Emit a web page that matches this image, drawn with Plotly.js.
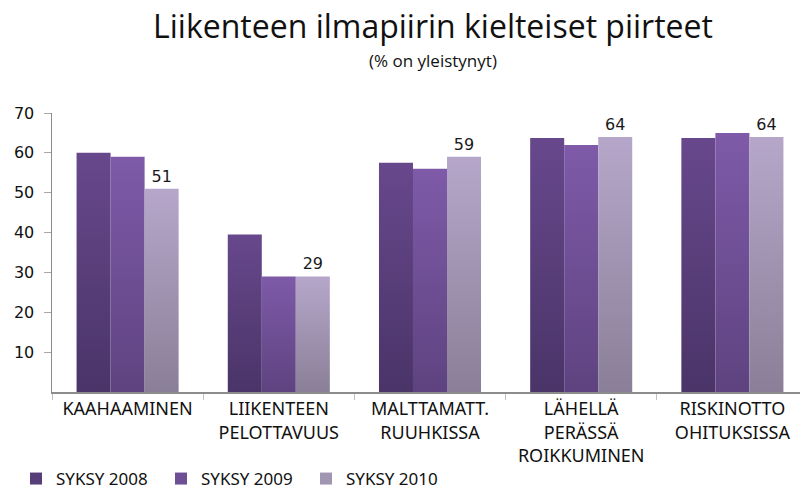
<!DOCTYPE html>
<html>
<head>
<meta charset="utf-8">
<script src="https://cdn.plot.ly/plotly-3.0.1.min.js"></script>
<style>
html,body{margin:0;padding:0;overflow:hidden;background:#fff;}
#chart{width:808px;height:493px;}
</style>
</head>
<body>
<div id="chart"></div>
<script>
const categories = ["KAAHAAMINEN", "LIIKENTEEN<br>PELOTTAVUUS", "MALTTAMATT.<br>RUUHKISSA", "LÄHELLÄ<br>PERÄSSÄ<br>ROIKKUMINEN", "RISKINOTTO<br>OHITUKSISSA"];
const seriesNames = ["SYKSY 2008", "SYKSY 2009", "SYKSY 2010"];
const syksy2008 = [60, 39.5, 57.5, 63.7, 63.7];
const syksy2009 = [59, 29, 56, 62, 65];
const syksy2010 = [51, 29, 59, 64, 64];
const colors = ["#583e78", "#6e4f96", "#a196b2"];
const gradTop = ["#67488c", "#7e5aa8", "#b6a7ca"];
const gradBottom = ["#4a3468", "#5e4380", "#8a7f98"];

const labelFont = "'Noto Sans', 'Open Sans', sans-serif";
const vals = [syksy2008, syksy2009, syksy2010];
const traces = vals.map((v, i) => ({
  type: "bar",
  name: seriesNames[i],
  x: categories,
  y: v,
  marker: {color: colors[i], line: {width: 0}},
  text: i === 2 ? v.map(String) : undefined,
  textposition: i === 2 ? "outside" : "none",
  textfont: {family: "DejaVu Sans, sans-serif", size: 16, color: "#1a1a1a"},
  cliponaxis: false,
  hoverinfo: "none"
}));

const layout = {
  width: 808, height: 493,
  margin: {l: 52, r: 0, t: 113, b: 101},
  paper_bgcolor: "#fff", plot_bgcolor: "#fff",
  barmode: "group", bargap: 0.325, bargroupgap: 0,
  title: {text: "Liikenteen ilmapiirin kielteiset piirteet",
    font: {family: "'Open Sans', sans-serif", size: 32, color: "#111"},
    xref: "container", x: 433/808, xanchor: "center",
    yref: "container", y: 1 - 27/493, yanchor: "middle"},
  annotations: [{text: "(% on yleistynyt)", showarrow: false,
    xref: "paper", yref: "paper", x: (433-52)/756, y: 1 + (113-60)/279,
    xanchor: "center", yanchor: "middle",
    font: {family: "'Open Sans', sans-serif", size: 17, color: "#111"}}],
  xaxis: {
    type: "category", range: [-0.5, 4.5],
    showline: true, linecolor: "#8c8c8c", linewidth: 1.5,
    ticks: "outside", tickson: "boundaries", ticklen: 6, tickcolor: "#c0c0c0",
    tickfont: {family: labelFont, size: 18, color: "#111"},
    showgrid: false, zeroline: false, automargin: false
  },
  yaxis: {
    range: [0, 70], dtick: 10, tick0: 0,
    showline: true, linecolor: "#8c8c8c", linewidth: 1.5,
    ticks: "outside", ticklen: 7, tickcolor: "#a8a8a8",
    ticklabelstandoff: 6,
    tickfont: {family: "DejaVu Sans, sans-serif", size: 16, color: "#111"},
    showgrid: false, zeroline: false, automargin: false,
    tickvals: [10, 20, 30, 40, 50, 60, 70], ticktext: ["10","20","30","40","50","60","70"]
  },
  showlegend: true,
  legend: {orientation: "h", xref: "container", yref: "container",
    x: 16/808, y: 1 - 479/493, xanchor: "left", yanchor: "middle",
    entrywidth: 100, entrywidthmode: "pixels",
    font: {family: labelFont, size: 17, color: "#111"},
    traceorder: "normal", itemclick: false, itemdoubleclick: false}
};

function applyGradients(gd) {
  const svg = gd.querySelector("svg.main-svg");
  if (!svg) return;
  let defs = svg.querySelector("defs#bargrads");
  if (!defs) {
    defs = document.createElementNS("http://www.w3.org/2000/svg", "defs");
    defs.setAttribute("id", "bargrads");
    gradTop.forEach((c, i) => {
      const g = document.createElementNS("http://www.w3.org/2000/svg", "linearGradient");
      g.setAttribute("id", "bg" + i);
      g.setAttribute("x1", "0"); g.setAttribute("y1", "0");
      g.setAttribute("x2", "0"); g.setAttribute("y2", "1");
      [[0, gradTop[i]], [1, gradBottom[i]]].forEach(([o, col]) => {
        const s = document.createElementNS("http://www.w3.org/2000/svg", "stop");
        s.setAttribute("offset", o); s.setAttribute("stop-color", col);
        g.appendChild(s);
      });
      defs.appendChild(g);
    });
    svg.insertBefore(defs, svg.firstChild);
  }
  gd.querySelectorAll(".barlayer .trace").forEach((t, i) => {
    t.querySelectorAll("path").forEach(p => { p.style.fill = "url(#bg" + i + ")"; });
  });
}

Plotly.newPlot("chart", traces, layout, {displayModeBar: false, staticPlot: true}).then(gd => {
  applyGradients(gd);
});
</script>
</body>
</html>
